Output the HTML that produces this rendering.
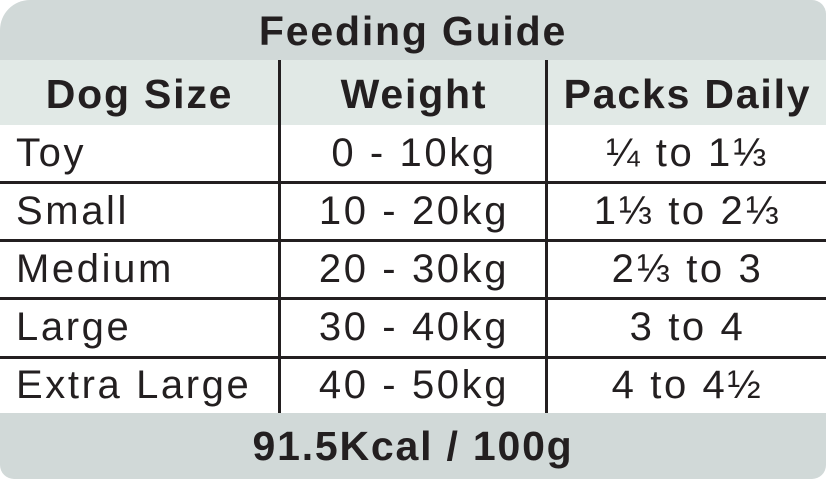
<!DOCTYPE html>
<html><head><style>
body{margin:0;width:829px;height:481px;background:#fff;font-family:"Liberation Sans",sans-serif;color:#231f20;overflow:hidden}
.a{position:absolute}
.c{position:absolute;text-align:center;white-space:nowrap}
.t{font-size:40px;letter-spacing:2.6px}
.b{font-weight:bold;font-size:41px;letter-spacing:1.8px}
.hl{position:absolute;left:0;width:826px;height:3px;background:#231f20}
.vl{position:absolute;width:3px;background:#231f20;top:60px;height:353px}
</style></head><body>
<div class="a" style="left:0;top:0;width:826px;height:60px;background:#d1d9d8;border-top-left-radius:30px;border-top-right-radius:14px"></div>
<div class="a" style="left:0;top:60px;width:826px;height:65px;background:#e1e9e6"></div>
<div class="a" style="left:0;top:413px;width:826px;height:66px;background:#d1d9d8;border-bottom-right-radius:14px;border-bottom-left-radius:14px"></div>
<div class="c b" style="left:0;width:826px;top:8px">Feeding Guide</div>
<div class="c b" style="left:0;width:279px;top:71px">Dog Size</div>
<div class="c b" style="left:282px;width:264px;top:71px">Weight</div>
<div class="c b" style="left:549px;width:277px;top:71px">Packs Daily</div>
<div class="hl" style="top:181px"></div>
<div class="hl" style="top:239px"></div>
<div class="hl" style="top:297px"></div>
<div class="hl" style="top:356px"></div>
<div class="vl" style="left:278px"></div>
<div class="vl" style="left:545px"></div>
<div class="a t" style="left:16px;top:131px">Toy</div>
<div class="a t" style="left:16px;top:189px">Small</div>
<div class="a t" style="left:16px;top:247px">Medium</div>
<div class="a t" style="left:16px;top:305px">Large</div>
<div class="a t" style="left:16px;top:363px">Extra Large</div>
<div class="c t" style="left:282px;width:264px;top:131px">0 - 10kg</div>
<div class="c t" style="left:282px;width:264px;top:189px">10 - 20kg</div>
<div class="c t" style="left:282px;width:264px;top:247px">20 - 30kg</div>
<div class="c t" style="left:282px;width:264px;top:305px">30 - 40kg</div>
<div class="c t" style="left:282px;width:264px;top:363px">40 - 50kg</div>
<div class="c t" style="left:549px;width:277px;top:131px">¼ to 1⅓</div>
<div class="c t" style="left:549px;width:277px;top:189px">1⅓ to 2⅓</div>
<div class="c t" style="left:549px;width:277px;top:247px">2⅓ to 3</div>
<div class="c t" style="left:549px;width:277px;top:305px">3 to 4</div>
<div class="c t" style="left:549px;width:277px;top:363px">4 to 4½</div>
<div class="c b" style="left:0;width:826px;top:423px">91.5Kcal / 100g</div>
</body></html>
